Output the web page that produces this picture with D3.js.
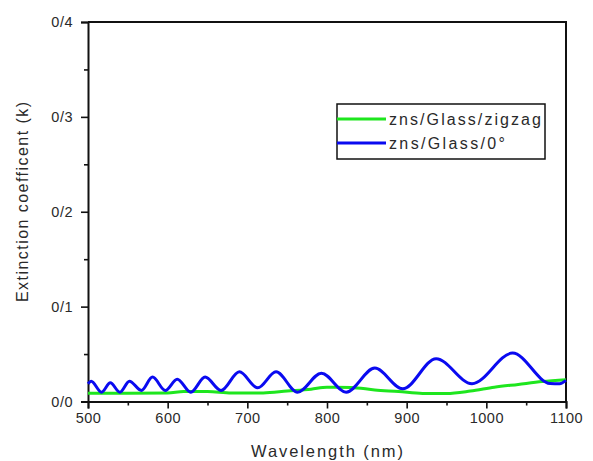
<!DOCTYPE html>
<html>
<head>
<meta charset="utf-8">
<script src="https://cdn.jsdelivr.net/npm/d3@7"></script>
<style>
  html, body { margin: 0; padding: 0; background: #fff; }
  svg { display: block; }
  text { font-family: Arial, "Liberation Sans", sans-serif; fill: #2a2a2a; }
</style>
</head>
<body>
<svg id="chart" width="593" height="461"></svg>
<script>
// Wavelength (nm) and extinction coefficient (k) for each film
const zigzagWavelength = [500, 550, 600, 620, 650, 680, 720, 750, 780, 800, 830, 860, 890, 920, 950, 980, 1010, 1040, 1070, 1100];
const zigzagK = [0.0088, 0.0088, 0.0090, 0.0105, 0.0105, 0.0090, 0.0090, 0.0110, 0.0130, 0.0150, 0.0148, 0.0122, 0.0105, 0.0085, 0.0085, 0.0110, 0.0150, 0.0180, 0.0210, 0.0230];

const normalWavelength = [500, 504, 517, 528, 540, 552, 567, 581, 597, 612, 629, 647, 667, 690, 713, 736, 763, 793, 824, 860, 895, 937, 982, 1033, 1080, 1092, 1100];
const normalK = [0.0187, 0.0214, 0.0098, 0.0197, 0.0098, 0.0214, 0.0116, 0.0257, 0.0116, 0.0235, 0.0098, 0.0257, 0.0116, 0.0313, 0.0144, 0.0313, 0.0098, 0.0299, 0.0098, 0.0352, 0.0134, 0.0451, 0.0187, 0.0510, 0.0190, 0.0187, 0.0222];

const xTicks = [500, 600, 700, 800, 900, 1000, 1100];
const xMinorTicks = [550, 650, 750, 850, 950, 1050];
const yTicks = [0, 0.1, 0.2, 0.3, 0.4];
const yMinorTicks = [0.05, 0.15, 0.25, 0.35];
const yTickLabels = ["0/0", "0/1", "0/2", "0/3", "0/4"];

const seriesNames = ["zns/Glass/zigzag", "zns/Glass/0°"];
const seriesColors = ["#1ee61e", "#0a0af0"];

const svg = d3.select("#chart");
const plot = { left: 88, right: 566, top: 22, bottom: 401.5 };

const x = d3.scaleLinear().domain([500, 1100]).range([plot.left, plot.right]);
const y = d3.scaleLinear().domain([0, 0.4]).range([plot.bottom, plot.top]);

// Frame: top and right borders
svg.append("path")
  .attr("d", `M${plot.left},${plot.top}H${plot.right}V${plot.bottom}`)
  .attr("fill", "none").attr("stroke", "#111").attr("stroke-width", 2);

// Bottom axis with major and minor ticks
svg.append("g").attr("transform", `translate(0,${plot.bottom})`)
  .call(d3.axisBottom(x).tickValues(xTicks).tickSize(7).tickPadding(4).tickFormat(d3.format("d")));
svg.append("g").attr("transform", `translate(0,${plot.bottom})`)
  .call(d3.axisBottom(x).tickValues(xMinorTicks).tickSize(4).tickFormat(""))
  .call(g => g.select(".domain").remove());

// Left axis with major and minor ticks
svg.append("g").attr("transform", `translate(${plot.left},0)`)
  .call(d3.axisLeft(y).tickValues(yTicks).tickSize(7).tickPadding(8).tickFormat((d, i) => yTickLabels[i]));
svg.append("g").attr("transform", `translate(${plot.left},0)`)
  .call(d3.axisLeft(y).tickValues(yMinorTicks).tickSize(4).tickFormat(""))
  .call(g => g.select(".domain").remove());

svg.selectAll(".domain").attr("stroke", "#111").attr("stroke-width", 2);
svg.selectAll(".tick line").attr("stroke", "#111").attr("stroke-width", 1.6);
svg.selectAll(".tick text").attr("font-size", 14.5).attr("fill", "#333")
  .style("font-family", "Arial, 'Liberation Sans', sans-serif").style("letter-spacing", "0.5px");

// Curves
const line = d3.line().x(d => x(d[0])).y(d => y(d[1])).curve(d3.curveMonotoneX);
const series = [
  d3.zip(zigzagWavelength, zigzagK),
  d3.zip(normalWavelength, normalK)
];
series.forEach((data, i) => {
  svg.append("path").datum(data)
    .attr("d", line)
    .attr("fill", "none")
    .attr("stroke", seriesColors[i])
    .attr("stroke-width", 3)
    .attr("stroke-linejoin", "round");
});

// Axis titles
svg.append("text")
  .attr("x", 327).attr("y", 457)
  .attr("text-anchor", "middle")
  .attr("font-size", 16.5)
  .attr("textLength", 152).attr("lengthAdjust", "spacing")
  .text("Wavelength (nm)");

svg.append("text")
  .attr("transform", "translate(28,202) rotate(-90)")
  .attr("text-anchor", "middle")
  .attr("font-size", 16)
  .attr("textLength", 200).attr("lengthAdjust", "spacing")
  .text("Extinction coefficent (k)");

// Legend
const legend = svg.append("g");
legend.append("rect")
  .attr("x", 337).attr("y", 104).attr("width", 208).attr("height", 55)
  .attr("fill", "#fff").attr("stroke", "#111").attr("stroke-width", 1.5);
const legendRows = [119, 143];
const legendWidths = [152, 116];
seriesNames.forEach((name, i) => {
  legend.append("line")
    .attr("x1", 337).attr("x2", 386)
    .attr("y1", legendRows[i]).attr("y2", legendRows[i])
    .attr("stroke", seriesColors[i]).attr("stroke-width", 3);
  legend.append("text")
    .attr("x", 389).attr("y", legendRows[i] + 5.5)
    .attr("font-size", 16)
    .attr("textLength", legendWidths[i]).attr("lengthAdjust", "spacing")
    .text(name);
});
</script>
</body>
</html>
